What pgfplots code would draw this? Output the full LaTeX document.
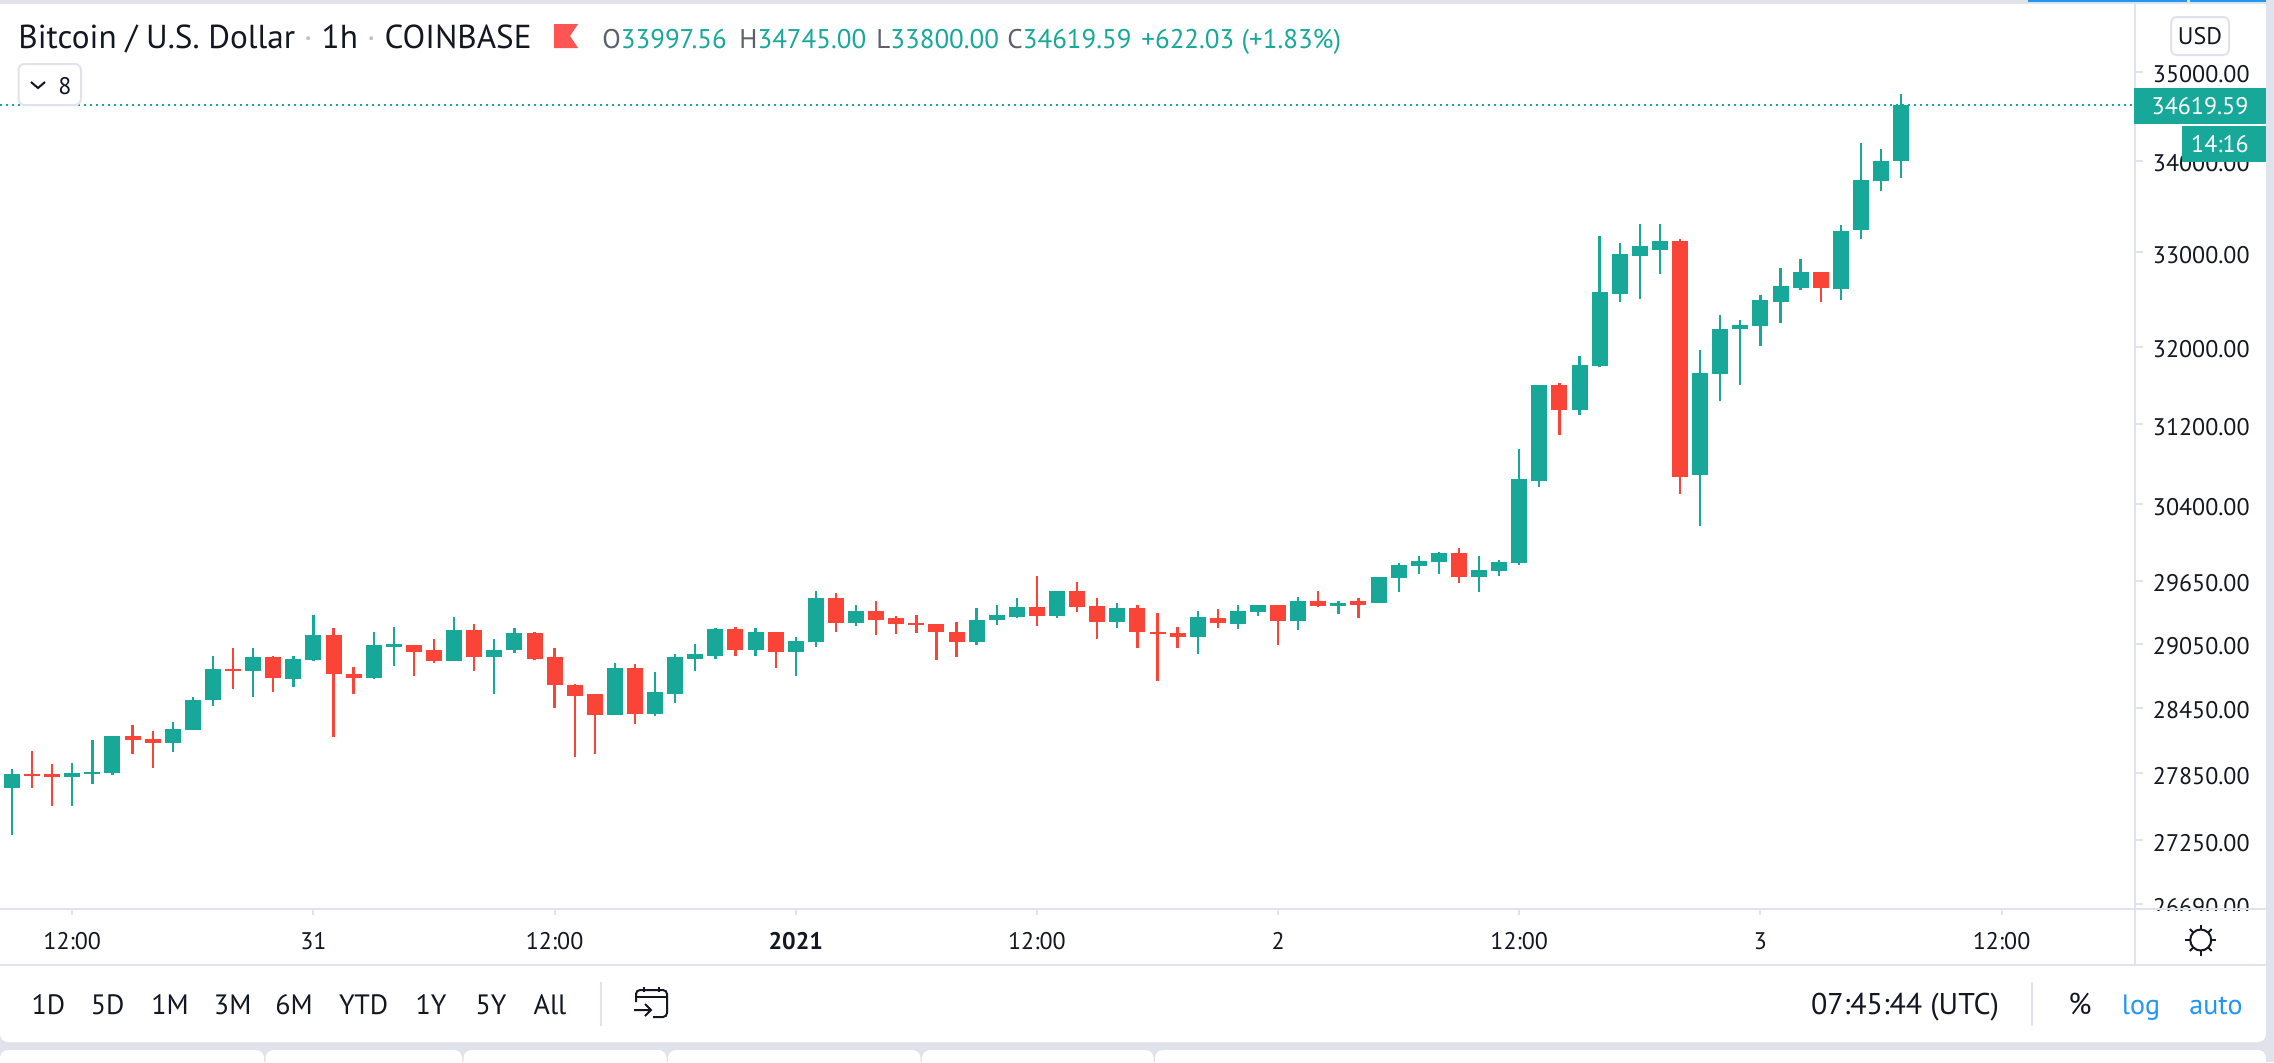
\documentclass[border=0pt]{standalone}
\usepackage{fontspec}
\setmainfont{PT Sans}
\usepackage{pgfplots}
\usepackage{pgfplotstable}
\pgfplotsset{compat=1.18}
\definecolor{upc}{HTML}{17A89A}
\definecolor{downc}{HTML}{FA4437}
\definecolor{linec}{HTML}{E0E3EB}
\definecolor{inkc}{HTML}{131722}
\definecolor{labc}{HTML}{5D606B}
\definecolor{bluec}{HTML}{2196F3}
\definecolor{flagc}{HTML}{FF5555}
\pgfplotstableread{
i o h l c
0 27715 27887 27303 27842
3 27815 27942 27561 27851
4 27842 28152 27751 27860
5 27851 28189 27833 28189
8 28133 28317 28042 28253
9 28244 28548 28244 28529
10 28520 28941 28465 28810
12 28791 29016 28557 28922
14 28716 28941 28641 28903
15 28894 29321 28885 29130
18 28726 29168 28716 29045
19 29026 29206 28847 29054
22 28885 29302 28885 29178
24 28931 29102 28576 28997
25 28988 29197 28960 29149
30 28382 28875 28382 28819
32 28391 28782 28373 28595
33 28585 28950 28492 28922
34 28913 29054 28791 28950
35 28941 29197 28913 29187
37 28997 29197 28941 29159
39 28978 29111 28744 29073
40 29064 29550 29026 29492
42 29245 29416 29216 29359
48 29064 29387 29035 29283
49 29273 29425 29226 29321
50 29302 29492 29292 29397
52 29311 29560 29292 29550
55 29254 29435 29197 29387
59 29111 29368 28950 29302
61 29235 29416 29187 29359
62 29349 29416 29311 29416
64 29264 29502 29178 29454
66 29406 29463 29330 29444
68 29435 29686 29435 29686
69 29676 29821 29541 29802
70 29792 29889 29715 29841
71 29831 29928 29715 29918
73 29686 29889 29541 29754
74 29744 29851 29696 29831
75 29821 30948 29802 30648
76 30638 31600 30568 31600
78 31344 31900 31293 31807
79 31797 33171 31786 32571
80 32560 33095 32475 32977
81 32955 33301 32507 33063
82 33030 33301 32763 33117
84 30688 31972 30183 31724
85 31714 32328 31436 32182
86 32182 32276 31600 32224
87 32213 32539 32003 32486
88 32475 32827 32245 32635
89 32613 32923 32592 32784
91 32603 33290 32486 33225
92 33236 34200 33138 33781
93 33770 34122 33660 34000
94 33997.56 34745 33800 34619.59
}\upcandles
\pgfplotstableread{
i o h l c
1 27842 28051 27715 27824
2 27842 27933 27561 27815
6 28189 28290 28024 28152
7 28161 28235 27896 28133
11 28810 29007 28623 28791
13 28922 28941 28595 28726
16 29130 29197 28179 28763
17 28772 28829 28576 28735
20 29045 29045 28744 28978
21 28988 29092 28866 28885
23 29178 29235 28791 28931
26 29149 29159 28894 28913
27 28922 29016 28446 28669
28 28669 28678 27996 28566
29 28576 28576 28024 28382
31 28819 28857 28299 28391
36 29187 29206 28941 28997
38 29159 29168 28819 28978
41 29492 29540 29159 29245
43 29359 29463 29130 29283
44 29292 29311 29140 29235
45 29245 29321 29149 29226
46 29235 29235 28894 29159
47 29168 29254 28922 29064
51 29397 29696 29216 29311
53 29550 29638 29349 29397
54 29406 29483 29092 29254
56 29387 29425 29007 29159
57 29168 29340 28697 29140
58 29149 29206 29016 29111
60 29292 29378 29197 29245
63 29416 29416 29035 29264
65 29454 29560 29397 29406
67 29454 29483 29292 29425
72 29918 29977 29628 29686
77 31600 31621 31090 31344
83 33117 33138 30498 30668
90 32784 32784 32465 32613
}\downcandles
\newcommand\tx[4][inkc]{\node[anchor=base,inner sep=0pt,text=#1,font=\fontsize{12}{14}\selectfont] at (#2,#3) {#4};}
\newcommand\bx[4][inkc]{\node[anchor=base,inner sep=0pt,text=#1,font=\fontsize{14}{16}\selectfont] at (#2,#3) {#4};}
\newcommand\wick[2]{%
 \addplot[draw=none,no markers,forget plot,error bars/.cd,y dir=both,y explicit,error mark=none,
   error bar style={solid,draw=#1,line width=1.15pt}]
   table[x=i,y=c,y error plus expr=\thisrow{h}-\thisrow{c},y error minus expr=\thisrow{c}-\thisrow{l}] {#2};}
\newcommand\body[3]{%
 \addplot[draw=none,no markers,forget plot,error bars/.cd,y dir=minus,y explicit,error mark=none,
   error bar style={solid,draw=#1,line width=8pt}]
   table[x=i,y=#3,y error minus expr=abs(\thisrow{c}-\thisrow{o})] {#2};}
\begin{document}
\begin{tikzpicture}
\path[use as bounding box] (0,0) rectangle (1137pt,-531pt);
\begin{scope}[x=0.5pt,y=-0.5pt]
\fill[linec] (0,0) rectangle (2274,1062);
\fill[white,rounded corners=4pt] (0,-20) rectangle (2266,1042);
\fill[white,rounded corners=4pt] (0,1050) rectangle (264,1090);
\fill[white,rounded corners=4pt] (265.5,1050) rectangle (462,1090);
\fill[white,rounded corners=4pt] (463.5,1050) rectangle (666.5,1090);
\fill[white,rounded corners=4pt] (668,1050) rectangle (920.5,1090);
\fill[white,rounded corners=4pt] (922,1050) rectangle (1153.5,1090);
\fill[white,rounded corners=4pt] (1155,1050) rectangle (2266,1090);
\fill[linec] (0,0) rectangle (2274,3.5);
\fill[linec] (200.5,0) rectangle (202,3.5);
\fill[bluec] (2028,0) rectangle (2187,2);
\fill[bluec] (2190,0) rectangle (2266,2);
\fill[linec] (2266,0) rectangle (2274,1062);
\end{scope}
\begin{axis}[
  at={(0pt,-2pt)},anchor=north west,
  scale only axis,width=1067.5pt,height=452.5pt,
  ymode=log,ymin=26652.6,ymax=35783,
  xmin=-0.597,xmax=105.64,
  axis y line*=right,axis x line*=bottom,
  axis line style={-,color=linec,line width=1pt},
  ytick={35000,34000,33000,32000,31200,30400,29650,29050,28450,27850,27250,26690},
  yticklabels={35000.00,34000.00,33000.00,32000.00,31200.00,30400.00,29650.00,29050.00,28450.00,27850.00,27250.00,26690.00},
  xtick={3,15,27,39,51,63,75,87,99},
  xticklabels={12:00,31,12:00,\textbf{2021},12:00,2,12:00,3,12:00},
  yminorticks=false,
  tick align=outside,
  ytick style={color=linec,line width=1pt,/pgfplots/major tick length=4pt},
  xtick style={color=linec,line width=1pt,/pgfplots/major tick length=3pt},
  ticklabel style={font=\fontsize{12}{14}\selectfont,text=inkc},
  yticklabel style={anchor=west,inner xsep=0pt,xshift=4.5pt,yshift=-1.2pt},
  xticklabel style={anchor=base,yshift=-16.5pt},
]
\addplot[forget plot,color=upc,line width=1pt,dash pattern=on 1pt off 2pt] coordinates {(-0.597,34619.59) (105.64,34619.59)};
\wick{upc}{\upcandles}
\wick{downc}{\downcandles}
\body{upc}{\upcandles}{c}
\body{downc}{\downcandles}{o}
\end{axis}
\begin{scope}[x=0.5pt,y=-0.5pt]
% header
\node[anchor=base west,inner sep=0pt,text=inkc,font=\fontsize{16.6}{18}\selectfont] at (18,48) {Bitcoin / U.S. Dollar \textcolor{labc!40}{·} 1h \textcolor{labc!40}{·} COINBASE};
\fill[flagc] (554,24) -- (578,24) -- (570,36) -- (578,48) -- (554,48) -- cycle;
\newcommand\hd[3]{\node[anchor=base west,inner sep=0pt,font=\fontsize{13.5}{16}\selectfont] at (#1,48) {\textcolor{labc}{#2}\textcolor{upc}{#3}};}
\hd{602}{O}{33997.56}
\hd{739}{H}{34745.00}
\hd{876}{L}{33800.00}
\hd{1007}{C}{34619.59}
\hd{1141}{}{+622.03 (+1.83\%)}
% legend button
\draw[linec,line width=1pt,rounded corners=3pt] (18.5,64) rectangle (81,105);
\draw[inkc,line width=1pt] (31,82) -- (38,88) -- (45,82);
\tx{65}{94}{8}
% usd
\draw[linec,line width=1pt,rounded corners=3pt] (2171,17) rectangle (2229,55);
\tx{2200}{44}{USD}
% price tags
\fill[white] (2137,911) rectangle (2266,964);
\fill[upc] (2134,88) rectangle (2266,124);
\tx[white]{2200}{114.5}{34619.59}
\fill[upc] (2182,126) rectangle (2266,162);
\tx[white]{2220}{152.5}{14:16}
% frame lines
\fill[linec] (0,908) rectangle (2266,910);
\fill[linec] (2134,910) rectangle (2136,965);
\fill[linec] (0,964) rectangle (2266,966);
% sun
\draw[inkc,line width=1pt] (2200.7,940) circle (10.5);
\foreach \a in {0,45,...,315} {\draw[inkc,line width=1pt] (2200.7,940) ++(\a:11) -- ++(\a:4.5);}
% range bar
\bx{48.5}{1014}{1D}
\bx{107.6}{1014}{5D}
\bx{170}{1014}{1M}
\bx{232.7}{1014}{3M}
\bx{294}{1014}{6M}
\bx{363.6}{1014}{YTD}
\bx{431}{1014}{1Y}
\bx{491}{1014}{5Y}
\bx{550}{1014}{All}
\fill[linec] (600,982) rectangle (602,1026);
\draw[inkc,line width=1pt,rounded corners=2pt] (636,1002) -- (636,990) -- (667,990) -- (667,1017) -- (653,1017);
\draw[inkc,line width=1pt] (636,997) -- (667,997);
\draw[inkc,line width=1pt] (644,987) -- (644,992) (659,987) -- (659,992);
\draw[inkc,line width=1pt] (634,1010) -- (651,1010) (645,1004) -- (651,1010) -- (645,1016);
\node[anchor=base,inner sep=0pt,text=inkc,font=\fontsize{15}{17}\selectfont] at (1905,1014) {07:45:44 (UTC)};
\fill[linec] (2031,982) rectangle (2033,1026);
\node[anchor=base,inner sep=0pt,text=inkc,font=\fontsize{15}{17}\selectfont] at (2080,1014) {\%};
\bx[bluec]{2141}{1014}{log}
\bx[bluec]{2216}{1014}{auto}
\end{scope}
\end{tikzpicture}
\end{document}
